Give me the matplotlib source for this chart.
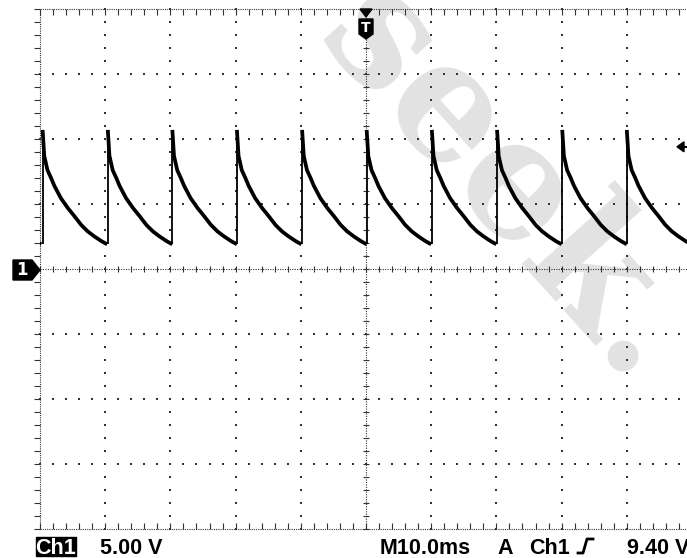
import numpy as np
import matplotlib
matplotlib.use('Agg')
import matplotlib.pyplot as plt
from matplotlib.patches import Polygon, Rectangle
from matplotlib.lines import Line2D

# One period of the discharge curve (ms after the rising edge, volts)
cycle_t = [0.0, 0.25, 0.75, 1.3, 1.8, 2.8, 3.85, 4.9, 5.9, 6.9, 7.95, 9.0, 9.9]
cycle_v = [10.7, 8.7, 7.6, 7.0, 6.4, 5.45, 4.7, 4.05, 3.4, 2.9, 2.5, 2.15, 1.9]

# Time of each rising edge (ms, trigger at 0)
rise_times = [-59.7, -49.6, -39.6, -29.7, -19.8, -9.8, 0.1, 10.1, 20.1, 30.1, 40.0]

# Readout at the bottom of the screen
ch_label = 'Ch1'
volts_div = '5.00 V'
time_div = 'M10.0ms'
trig_mode = 'A'
trig_src = 'Ch1'
trig_level = '9.40 V'
trig_level_v = 9.40

W, H = 687, 558


def fx(x):
    return x / W


def fy(y):
    return 1 - y / H


fig = plt.figure(figsize=(W / 100, H / 100), dpi=100)
fig.patch.set_facecolor('white')
ax = fig.add_axes([fx(40), fy(529), 652 / W, 520 / H])
ax.set_xlim(-50, 50)
ax.set_ylim(-20, 20)
ax.set_axis_off()

# watermark, behind everything
ax.text(fx(505), fy(185), 'seek.', rotation=-48, ha='center', va='center',
        fontsize=118, fontweight='bold', family='DejaVu Serif',
        color='#e2e2e2', zorder=0, transform=fig.transFigure, clip_on=False)

# graticule: dotted division lines
grid_col = '0.2'
for gx in range(-40, 50, 10):
    if gx == 0:
        continue
    yy = np.arange(-20, 20.01, 1)
    ax.plot(np.full_like(yy, gx), yy, ls='none', marker='s', ms=1.5, mew=0,
            color=grid_col, clip_on=False)
for gy in range(-15, 20, 5):
    if gy == 0:
        continue
    xx = np.arange(-50, 50.01, 2)
    ax.plot(xx, np.full_like(xx, gy), ls='none', marker='s', ms=1.5, mew=0,
            color=grid_col, clip_on=False)

# centre lines with minor ticks
ax.plot([-50, 50], [0, 0], ls=(0, (1, 1.2)), lw=0.8, color=grid_col, clip_on=False)
ax.plot([0, 0], [-20, 20], ls=(0, (1, 1.2)), lw=0.8, color=grid_col, clip_on=False)
tx = np.arange(-50, 50.01, 2)
ty = np.arange(-20, 20.01, 1)
ax.plot(tx, np.zeros_like(tx), ls='none', marker='|', ms=5, mew=0.8,
        color=grid_col, clip_on=False)
ax.plot(np.zeros_like(ty), ty, ls='none', marker='_', ms=5, mew=0.8,
        color=grid_col, clip_on=False)

# border with ticks
ax.plot([-50, 50], [20, 20], ls=(0, (1, 1)), lw=0.8, color=grid_col, clip_on=False)
ax.plot([-50, 50], [-20, -20], ls=(0, (1, 1)), lw=0.8, color=grid_col, clip_on=False)
ax.plot([-50, -50], [-20, 20], ls=(0, (1, 1)), lw=0.8, color=grid_col, clip_on=False)
ax.plot(tx, np.full_like(tx, 20), ls='none', marker=3, ms=4, mew=0.8,
        color=grid_col, clip_on=False)
ax.plot(tx, np.full_like(tx, -20), ls='none', marker=2, ms=4, mew=0.8,
        color=grid_col, clip_on=False)
ax.plot(np.full_like(ty, -50), ty, ls='none', marker=0, ms=4, mew=0.8,
        color=grid_col, clip_on=False)

# the trace
for r in rise_times:
    t = np.array(cycle_t) + r
    ax.plot(t, cycle_v, color='black', lw=2.7, solid_joinstyle='round',
            solid_capstyle='butt', zorder=5)
ax.vlines(rise_times[1:], cycle_v[-1], cycle_v[0], color='black', lw=1.3, zorder=5)

# trigger position marker (T) at the top
fig.patches.append(Polygon([(fx(360), fy(9)), (fx(372), fy(9)), (fx(366), fy(17))],
                           closed=True, color='black', transform=fig.transFigure))
fig.patches.append(Polygon([(fx(359), fy(19)), (fx(373), fy(19)), (fx(373), fy(34)),
                            (fx(366), fy(39)), (fx(359), fy(34))],
                           closed=True, color='black', transform=fig.transFigure))
fig.text(fx(366), fy(28), 'T', color='white', fontsize=10, fontweight='bold',
         ha='center', va='center')

# channel 1 ground marker
fig.patches.append(Polygon([(fx(13), fy(260)), (fx(32), fy(260)), (fx(40), fy(270)),
                            (fx(32), fy(280)), (fx(13), fy(280))],
                           closed=True, color='black', transform=fig.transFigure))
fig.text(fx(22), fy(270), '1', color='white', fontsize=12, fontweight='bold',
         ha='center', va='center')

# trigger level arrow on the right
ly = 269 - trig_level_v * 13
fig.patches.append(Polygon([(fx(677), fy(ly)), (fx(684), fy(ly - 5)), (fx(684), fy(ly + 5))],
                           closed=True, color='black', transform=fig.transFigure))
fig.add_artist(Line2D([fx(682), fx(687)], [fy(ly), fy(ly)], color='black', lw=1.5))

# readout
font = dict(family='Liberation Sans', fontweight='bold', fontsize=15.5, va='baseline')
fig.patches.append(Rectangle((fx(36), fy(556)), 40 / W, 19 / H, color='black',
                             transform=fig.transFigure))
fig.text(fx(56), fy(553.5), ch_label, color='white', ha='center', **font)
fig.text(fx(100), fy(553.5), volts_div, color='black', ha='left', **font)
fig.text(fx(380), fy(553.5), time_div, color='black', ha='left', **font)
fig.text(fx(497), fy(553.5), trig_mode, color='black', ha='left', **font)
fig.text(fx(529), fy(553.5), trig_src, color='black', ha='left', **font)
fig.add_artist(Line2D([fx(578), fx(583), fx(587), fx(593)],
                      [fy(553), fy(553), fy(539), fy(539)], color='black', lw=2))
fig.text(fx(627), fy(553.5), trig_level, color='black', ha='left', **font)

fig.savefig('out.png', dpi=100, facecolor='white')
